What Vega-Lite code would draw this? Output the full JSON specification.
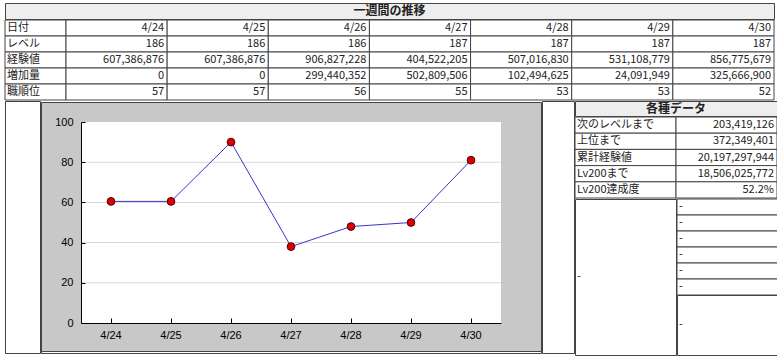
{
  "$schema": "https://vega.github.io/schema/vega-lite/v6.json",
  "padding": {"left": 4, "top": 2, "right": 2, "bottom": 4},
  "background": "white",
  "config": {
    "view": {"stroke": null},
    "text": {"font": "Noto Sans CJK JP", "fontSize": 11, "color": "#222"}
  },
  "datasets": {
    "week": [
      {"日付": "4/24", "レベル": 186, "経験値": 607386876, "増加量": 0, "職順位": 57, "指数": 60.5},
      {"日付": "4/25", "レベル": 186, "経験値": 607386876, "増加量": 0, "職順位": 57, "指数": 60.5},
      {"日付": "4/26", "レベル": 186, "経験値": 906827228, "増加量": 299440352, "職順位": 56, "指数": 90},
      {"日付": "4/27", "レベル": 187, "経験値": 404522205, "増加量": 502809506, "職順位": 55, "指数": 38},
      {"日付": "4/28", "レベル": 187, "経験値": 507016830, "増加量": 102494625, "職順位": 53, "指数": 48},
      {"日付": "4/29", "レベル": 187, "経験値": 531108779, "増加量": 24091949, "職順位": 53, "指数": 50},
      {"日付": "4/30", "レベル": 187, "経験値": 856775679, "増加量": 325666900, "職順位": 52, "指数": 81}
    ],
    "rows": [
      {"項目": "日付"}, {"項目": "レベル"}, {"項目": "経験値"}, {"項目": "増加量"}, {"項目": "職順位"}
    ],
    "stats": [
      {"項目": "次のレベルまで", "値": 203419126},
      {"項目": "上位まで", "値": 372349401},
      {"項目": "累計経験値", "値": 20197297944},
      {"項目": "Lv200まで", "値": 18506025772},
      {"項目": "Lv200達成度", "値": 0.522}
    ],
    "blank": [
      {"枠": "1", "値": "-"}, {"枠": "2", "値": "-"}, {"枠": "3", "値": "-"},
      {"枠": "4", "値": "-"}, {"枠": "5", "値": "-"}, {"枠": "6", "値": "-"}
    ],
    "grid": [{"目盛": 20}, {"目盛": 40}, {"目盛": 60}, {"目盛": 80}]
  },
  "spacing": -2,
  "vconcat": [
    {
      "width": 769, "height": 16,
      "view": {"fill": "#eeeeee", "stroke": "#444", "strokeWidth": 1},
      "data": {"values": [{"見出し": "一週間の推移"}]},
      "mark": {"type": "text", "fontWeight": "bold", "fontSize": 12, "color": "#222"},
      "encoding": {"text": {"field": "見出し"}}
    },
    {
      "spacing": 0,
      "bounds": "flush",
      "hconcat": [
        {
          "width": 61, "height": 80,
          "data": {"name": "rows"},
          "encoding": {
            "y": {"field": "項目", "type": "nominal", "sort": null, "scale": {"paddingInner": 0, "paddingOuter": 0}, "axis": null}
          },
          "layer": [
            {"mark": {"type": "rect", "fill": "white", "stroke": "#444", "strokeWidth": 1}},
            {
              "mark": {"type": "text", "align": "left", "dx": 2},
              "encoding": {
                "x": {"datum": 0, "type": "quantitative", "scale": {"domain": [0, 1]}, "axis": null},
                "text": {"field": "項目"}
              }
            }
          ]
        },
        {
          "width": 708, "height": 80,
          "data": {"name": "week"},
          "transform": [
            {"fold": ["日付", "レベル", "経験値", "増加量", "職順位"]},
            {"calculate": "isString(datum.value) ? datum.value : format(datum.value, ',')", "as": "表示"}
          ],
          "encoding": {
            "y": {"field": "key", "type": "nominal", "scale": {"domain": ["日付", "レベル", "経験値", "増加量", "職順位"], "paddingInner": 0, "paddingOuter": 0}, "axis": null}
          },
          "layer": [
            {
              "mark": {"type": "rect", "fill": "white", "stroke": "#444", "strokeWidth": 1},
              "encoding": {"x": {"field": "日付", "type": "ordinal", "scale": {"paddingInner": 0, "paddingOuter": 0}, "axis": null}}
            },
            {
              "mark": {"type": "text", "align": "right", "dx": -3},
              "encoding": {
                "x": {"field": "日付", "type": "ordinal", "bandPosition": 1, "axis": null},
                "text": {"field": "表示"}
              }
            }
          ]
        }
      ]
    },
    {
      "spacing": -2,
      "hconcat": [
        {
          "width": 35, "height": 252,
          "view": {"fill": "white", "stroke": "#444", "strokeWidth": 1},
          "data": {"values": []},
          "mark": "rect"
        },
        {
          "spacing": 0,
          "bounds": "flush",
          "vconcat": [
            {
              "width": 500, "height": 1,
              "view": {"fill": "white", "stroke": null},
              "data": {"values": []},
              "mark": "rect"
            },
            {
              "width": 500, "height": 249,
              "view": {"fill": "#c8c8c8", "stroke": "#444", "strokeWidth": 1},
              "data": {"name": "week"},
              "layer": [
                {
                  "mark": {"type": "bar", "fill": "white"},
                  "encoding": {
                    "x": {
                      "field": "日付", "type": "ordinal",
                      "scale": {"range": [40, 460], "paddingInner": 0, "paddingOuter": 0},
                      "axis": {
                        "title": null, "labelAngle": 0, "offset": -28, "grid": false, "zindex": 1,
                        "domainColor": "#000", "domainWidth": 1, "tickColor": "#000", "tickWidth": 1,
                        "tickSize": -5, "labelPadding": 11,
                        "labelFont": "Liberation Sans", "labelFontSize": 11, "labelColor": "#000"
                      }
                    },
                    "y": {
                      "datum": 100, "type": "quantitative",
                      "scale": {"domain": [0, 100], "range": [221, 20], "nice": false},
                      "axis": {
                        "title": null, "offset": -40, "grid": false, "zindex": 1,
                        "values": [0, 10, 20, 30, 40, 50, 60, 70, 80, 90, 100],
                        "labelExpr": "datum.value % 20 === 0 ? datum.label : ''",
                        "tickSize": {"condition": {"test": "datum.value % 20 === 0", "value": -4}, "value": -2},
                        "domainColor": "#000", "domainWidth": 1, "tickColor": "#000", "tickWidth": 1,
                        "labelPadding": 12,
                        "labelFont": "Liberation Sans", "labelFontSize": 11, "labelColor": "#000"
                      }
                    },
                    "y2": {"datum": 0}
                  }
                },
                {
                  "data": {"name": "grid"},
                  "mark": {"type": "tick", "orient": "horizontal", "size": 420, "thickness": 1, "color": "#d9d9d9", "opacity": 1},
                  "encoding": {
                    "y": {"field": "目盛", "type": "quantitative"}
                  }
                },
                {
                  "mark": {"type": "line", "color": "#3535cc", "strokeWidth": 1},
                  "encoding": {
                    "x": {"field": "日付", "type": "ordinal"},
                    "y": {"field": "指数", "type": "quantitative"}
                  }
                },
                {
                  "mark": {"type": "point", "shape": "circle", "filled": true, "fill": "#dd0000", "stroke": "#550000", "strokeWidth": 1, "size": 60, "opacity": 1},
                  "encoding": {
                    "x": {"field": "日付", "type": "ordinal"},
                    "y": {"field": "指数", "type": "quantitative"}
                  }
                }
              ]
            },
            {
              "width": 500, "height": 2,
              "view": {"fill": "white", "stroke": "#444", "strokeWidth": 1},
              "data": {"values": []},
              "mark": "rect"
            }
          ]
        },
        {
          "width": 32, "height": 252,
          "view": {"fill": "white", "stroke": "#444", "strokeWidth": 1},
          "data": {"values": []},
          "mark": "rect"
        },
        {
          "spacing": -2,
          "vconcat": [
            {
              "width": 202, "height": 15,
              "view": {"fill": "#eeeeee", "stroke": "#444", "strokeWidth": 1},
              "data": {"values": [{"見出し": "各種データ"}]},
              "mark": {"type": "text", "fontWeight": "bold", "fontSize": 12, "color": "#222"},
              "encoding": {"text": {"field": "見出し"}}
            },
            {
              "width": 202, "height": 81,
              "data": {"name": "stats"},
              "transform": [
                {"calculate": "datum['項目'] === 'Lv200達成度' ? format(datum['値'], '.1%') : format(datum['値'], ',')", "as": "表示"}
              ],
              "encoding": {
                "y": {"field": "項目", "type": "nominal", "sort": null, "scale": {"paddingInner": 0, "paddingOuter": 0}, "axis": null}
              },
              "layer": [
                {
                  "mark": {"type": "rect", "fill": "white", "stroke": "#444", "strokeWidth": 1},
                  "encoding": {"x": {"datum": "項目", "type": "nominal", "scale": {"domain": ["項目", "値"], "paddingInner": 0, "paddingOuter": 0}, "axis": null}}
                },
                {
                  "mark": {"type": "rect", "fill": "white", "stroke": "#444", "strokeWidth": 1},
                  "encoding": {"x": {"datum": "値", "type": "nominal"}}
                },
                {
                  "mark": {"type": "text", "align": "left", "dx": 2},
                  "encoding": {"x": {"datum": "項目", "type": "nominal", "bandPosition": 0}, "text": {"field": "項目"}}
                },
                {
                  "mark": {"type": "text", "align": "right", "dx": -3},
                  "encoding": {"x": {"datum": "値", "type": "nominal", "bandPosition": 1}, "text": {"field": "表示"}}
                }
              ]
            },
            {
              "spacing": -2,
              "hconcat": [
                {
                  "width": 101, "height": 156,
                  "view": {"fill": "white", "stroke": "#444", "strokeWidth": 1},
                  "data": {"values": [{"値": "-"}]},
                  "mark": {"type": "text", "align": "left", "dx": 2},
                  "encoding": {
                    "x": {"datum": 0, "type": "quantitative", "scale": {"domain": [0, 1]}, "axis": null},
                    "text": {"field": "値"}
                  }
                },
                {
                  "spacing": 0,
                  "bounds": "flush",
                  "vconcat": [
                    {
                      "width": 101, "height": 96,
                      "data": {"name": "blank"},
                      "encoding": {
                        "y": {"field": "枠", "type": "nominal", "scale": {"paddingInner": 0, "paddingOuter": 0}, "axis": null}
                      },
                      "layer": [
                        {"mark": {"type": "rect", "fill": "white", "stroke": "#444", "strokeWidth": 1}},
                        {
                          "mark": {"type": "text", "align": "left", "dx": 2},
                          "encoding": {
                            "x": {"datum": 0, "type": "quantitative", "scale": {"domain": [0, 1]}, "axis": null},
                            "text": {"field": "値"}
                          }
                        }
                      ]
                    },
                    {
                      "width": 101, "height": 60,
                      "view": {"fill": "white", "stroke": "#444", "strokeWidth": 1},
                      "data": {"values": [{"値": "-"}]},
                      "mark": {"type": "text", "align": "left", "dx": 2},
                      "encoding": {
                        "x": {"datum": 0, "type": "quantitative", "scale": {"domain": [0, 1]}, "axis": null},
                        "text": {"field": "値"}
                      }
                    }
                  ]
                }
              ]
            }
          ]
        }
      ]
    }
  ]
}
